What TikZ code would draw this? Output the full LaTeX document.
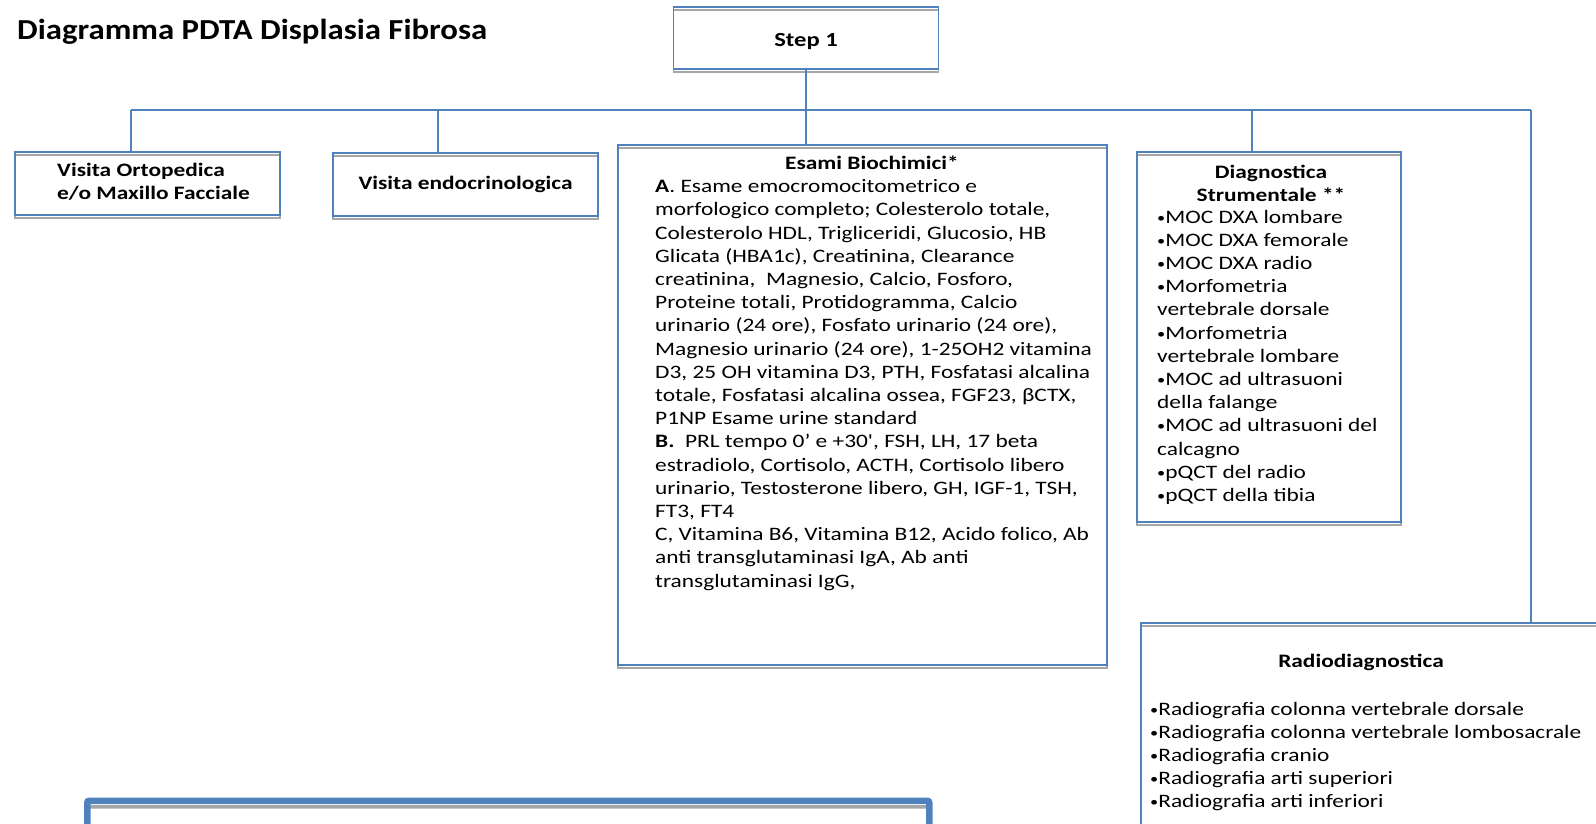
\documentclass[tikz,border=0pt]{standalone}
\usepackage{fontspec}
\usepackage{graphicx}
\newfontfamily\carlito{Carlito}[FakeStretch=1.23]
\newfontfamily\titlefont{Carlito}[FakeStretch=1.13]
\usepackage{tikz}
\usetikzlibrary{positioning}

\definecolor{boxblue}{RGB}{79,129,189}
\definecolor{shadowgray}{RGB}{166,166,166}

\newcommand{\bul}{\raisebox{0.05em}{\scalebox{0.7}{•}}}

\tikzset{
  box/.style={draw=boxblue, line width=1.5pt, inner sep=0pt,
    preaction={draw=shadowgray, line width=1.5pt, transform canvas={yshift=-3pt}}},
  bigbox/.style={draw=boxblue, line width=6.5pt, rounded corners=2pt,
    preaction={draw=shadowgray, line width=3.5pt, transform canvas={yshift=-6pt}}},
  link/.style={draw=boxblue, line width=1.5pt},
  lbl/.style={inner sep=0pt, font=\carlito\bfseries\fontsize{19}{23}\selectfont},
  body/.style={inner sep=0pt, align=left, font=\carlito\fontsize{19}{23.2}\selectfont},
}

\begin{document}
\begin{tikzpicture}[x=1pt, y=-1pt, font=\carlito]
\useasboundingbox (0,0) rectangle (1596,824);
\clip (0,0) rectangle (1596,824);

\node[anchor=base west, inner sep=0pt, font=\titlefont\bfseries\fontsize{29}{34}\selectfont] (title) at (17,40) {Diagramma PDTA Displasia Fibrosa};

\node[box, minimum width=265pt, minimum height=62pt, text height=18pt, text depth=0pt, font=\carlito\bfseries\fontsize{20}{24}\selectfont] (step) at (806,38) {Step 1};

\node[box, minimum width=265pt, minimum height=63pt] (ortho) at (147.5,183.5) {};
\node[lbl, align=left, anchor=north west] (orthotext) at (57,163) {Visita Ortopedica\\e/o Maxillo Facciale};

\node[box, lbl, minimum width=265pt, minimum height=63pt] (endo) at (465.5,184.5) {Visita endocrinologica};

\node[box, minimum width=489pt, minimum height=520pt] (esami) at (862.5,405) {};
\node[lbl, anchor=base] (esamihead) at (872,169) {Esami Biochimici*};
\node[body, anchor=north west] (esamitext) at (655,179.5) {\textbf{A}. Esame emocromocitometrico e\\
morfologico completo; Colesterolo totale,\\
Colesterolo HDL, Trigliceridi, Glucosio, HB\\
Glicata (HBA1c), Creatinina, Clearance\\
creatinina,\ \ Magnesio, Calcio, Fosforo,\\
Proteine totali, Protidogramma, Calcio\\
urinario (24 ore), Fosfato urinario (24 ore),\\
Magnesio urinario (24 ore), 1-25OH2 vitamina\\
D3, 25 OH vitamina D3, PTH, Fosfatasi alcalina\\
totale, Fosfatasi alcalina ossea, FGF23, βCTX,\\
P1NP Esame urine standard\\
\textbf{B.}\ \ PRL tempo 0’ e +30', FSH, LH, 17 beta\\
estradiolo, Cortisolo, ACTH, Cortisolo libero\\
urinario, Testosterone libero, GH, IGF-1, TSH,\\
FT3, FT4\\
C, Vitamina B6, Vitamina B12, Acido folico, Ab\\
anti transglutaminasi IgA, Ab anti\\
transglutaminasi IgG,};

\node[box, minimum width=264pt, minimum height=370pt] (diag) at (1269,337) {};
\node[lbl, align=center, anchor=north] (diaghead) at (1271,165) {Diagnostica\\Strumentale **};
\node[body, anchor=north west] (diagtext) at (1157,209.7) {\bul MOC DXA lombare\\
\bul MOC DXA femorale\\
\bul MOC DXA radio\\
\bul Morfometria\\
vertebrale dorsale\\
\bul Morfometria\\
vertebrale lombare\\
\bul MOC ad ultrasuoni\\
della falange\\
\bul MOC ad ultrasuoni del\\
calcagno\\
\bul pQCT del radio\\
\bul pQCT della tibia};

\node[box, minimum width=520pt, minimum height=300pt, anchor=north west] (radio) at (1140,622) {};
\node[lbl, anchor=base] (radiohead) at (1361,667) {Radiodiagnostica};
\node[body, anchor=north west] (radiotext) at (1150,701.7) {\bul Radiografia colonna vertebrale dorsale\\
\bul Radiografia colonna vertebrale lombosacrale\\
\bul Radiografia cranio\\
\bul Radiografia arti superiori\\
\bul Radiografia arti inferiori};

\node[bigbox, minimum width=842pt, minimum height=120pt, anchor=north west] (note) at (84,797.5) {};

\coordinate (busL) at (131,110);
\coordinate (busR) at (1531,110);
\coordinate (endodrop) at (438,110);
\coordinate (diagdrop) at (1252,110);

\draw[link] (busL) -- (busR);
\draw[link] (step.south) -- (step.south |- busL);
\draw[link] (busL) -- (ortho.north -| busL);
\draw[link] (endodrop) -- (endo.north -| endodrop);
\draw[link] (step.south |- busL) -- (esami.north -| step.south);
\draw[link] (diagdrop) -- (diag.north -| diagdrop);
\draw[link] (busR) -- (radio.north -| busR);
\end{tikzpicture}
\end{document}
